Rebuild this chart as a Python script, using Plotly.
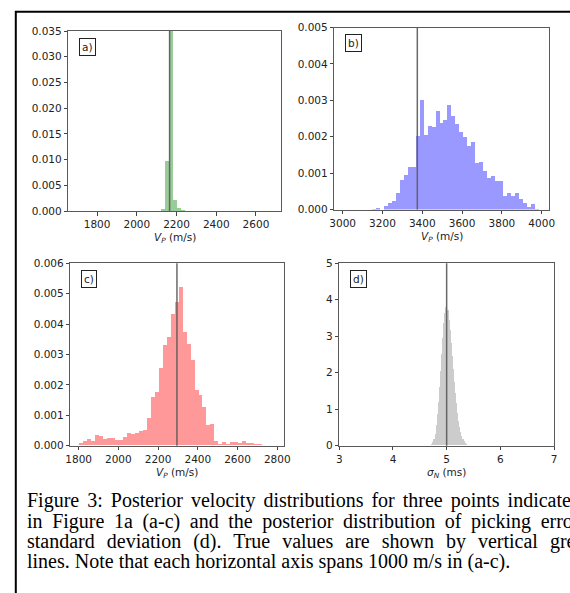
import plotly.graph_objects as go

W, H = 570, 593

# ---------------- data (histogram densities) ----------------
a_start, a_width = 2124, 20
a_density = [0.0003, 0.0097, 0.037, 0.0021, 0.0005, 0.00025]
a_true = 2165

b_start, b_width = 3108, 20
b_density = [0.00001, 0.00001, 0.00002, 0.00005, 0.0, 0.00011, 0.00018, 0.00026,
             0.00048, 0.00083, 0.00096, 0.00118, 0.00117, 0.00204, 0.00303, 0.00206,
             0.0023, 0.00228, 0.00271, 0.0024, 0.00248, 0.00289, 0.00259, 0.00237,
             0.00214, 0.002, 0.00175, 0.00187, 0.00129, 0.00131, 0.00106, 0.00088,
             0.00094, 0.00081, 0.00079, 0.00039, 0.00047, 0.00038, 0.00047, 0.00031,
             0.00018, 0.00008, 0.00017, 0.00003]
b_true = 3375

c_start, c_width = 1805, 20
c_density = [0.00008, 0.00015, 0.0002, 0.00013, 0.00033, 0.00031, 0.00022, 0.00025,
             0.00026, 0.00018, 0.00018, 0.00027, 0.0004, 0.00037, 0.00042, 0.00046,
             0.00051, 0.0009, 0.00159, 0.00175, 0.00254, 0.00331, 0.00358, 0.00433,
             0.00473, 0.0052, 0.00372, 0.00333, 0.00281, 0.00183, 0.00166, 0.00125,
             0.00068, 0.00071, 0.00013, 0.00005, 0.00011, 0.00005, 0.00011, 0.00011,
             0.00008, 0.00013, 0.00009, 0.00009, 0.00005, 0.00005]
c_true = 2295

d_start, d_width = 4.72, 0.02
d_density = [0.03, 0.08, 0.17, 0.32, 0.55, 0.85, 1.2, 1.6, 2.05, 2.5, 2.95, 3.35,
             3.62, 3.8, 3.85, 3.7, 3.45, 3.15, 2.8, 2.45, 2.1, 1.75, 1.45, 1.15,
             0.9, 0.68, 0.5, 0.36, 0.25, 0.17, 0.11, 0.06, 0.03, 0.01]
d_true = 5.0

panel_labels = ["a)", "b)", "c)", "d)"]
x_titles = ["<i>V</i><sub><i>P</i></sub> (m/s)", "<i>V</i><sub><i>P</i></sub> (m/s)",
            "<i>V</i><sub><i>P</i></sub> (m/s)", "<i>σ</i><sub><i>N</i></sub> (ms)"]

caption_lines = [
    "Figure 3: Posterior velocity distributions for three points indicated",
    "in Figure 1a (a-c) and the posterior distribution of picking error",
    "standard deviation (d). True values are shown by vertical grey",
    "lines. Note that each horizontal axis spans 1000 m/s in (a-c).",
]
# extra word spacing (px) mimicking the justified text of the page
caption_word_spacing = [3, 4.6, 7, 0]

# ---------------- layout geometry (pixels) ----------------
panels = [
    dict(start=a_start, width=a_width, dens=a_density, true=a_true,
         color="rgba(0,128,0,0.4)", box=(68.3, 281, 31, 211),
         xr=[1655, 2726], yr=[0, 0.035], xt=(1800, 2600, 200), yt=(0, 0.035, 0.005), yfmt=".3f"),
    dict(start=b_start, width=b_width, dens=b_density, true=b_true,
         color="rgba(0,0,255,0.4)", box=(334.3, 548.7, 27.5, 209.5),
         xr=[2958, 4035], yr=[0, 0.005], xt=(3000, 4000, 200), yt=(0, 0.005, 0.001), yfmt=".3f"),
    dict(start=c_start, width=c_width, dens=c_density, true=c_true,
         color="rgba(255,0,0,0.4)", box=(70.3, 284, 263.3, 445.7),
         xr=[1758, 2834], yr=[0, 0.006], xt=(1800, 2800, 200), yt=(0, 0.006, 0.001), yfmt=".3f"),
    dict(start=d_start, width=d_width, dens=d_density, true=d_true,
         color="rgba(128,128,128,0.4)", box=(339.3, 554, 263.3, 445.7),
         xr=[3, 7], yr=[0, 5], xt=(3, 7, 1), yt=(0, 5, 1), yfmt="d"),
]


def frange(a, b, s):
    out = []
    n = int(round((b - a) / s))
    for i in range(n + 1):
        out.append(round(a + i * s, 6))
    return out


fig = go.Figure()
layout = dict(width=W, height=H, margin=dict(l=0, r=0, t=0, b=0),
              paper_bgcolor="white", plot_bgcolor="white", showlegend=False,
              bargap=0, barmode="overlay",
              font=dict(family="DejaVu Sans", size=10.5, color="#222"))
shapes = []
annotations = []

for i, p in enumerate(panels):
    n = "" if i == 0 else str(i + 1)
    xa, ya = "x" + n, "y" + n
    centers = [p["start"] + p["width"] * (k + 0.5) for k in range(len(p["dens"]))]
    fig.add_trace(go.Bar(x=centers, y=p["dens"], width=p["width"],
                         marker=dict(color=p["color"], line=dict(width=0)),
                         xaxis=xa, yaxis=ya, hoverinfo="skip"))
    x0, x1, ytop, ybot = p["box"]
    common = dict(showline=True, mirror=True, linecolor="#5a5a5a", linewidth=1,
                  ticks="outside", ticklen=3.5, tickcolor="#444", tickwidth=1,
                  showgrid=False, zeroline=False, automargin=False,
                  tickfont=dict(family="DejaVu Sans", size=10.5, color="#222"))
    layout["xaxis" + n] = dict(domain=[x0 / W, x1 / W], range=p["xr"], anchor=ya,
                               tickmode="array", tickvals=frange(*p["xt"]), **common)
    yt = frange(*p["yt"])
    if p["yfmt"] == "d":
        ytext = [str(int(v)) for v in yt]
    else:
        ytext = [f"{v:.3f}" for v in yt]
    layout["yaxis" + n] = dict(domain=[1 - ybot / H, 1 - ytop / H], range=p["yr"], anchor=xa,
                               tickmode="array", tickvals=yt, ticktext=ytext, **common)
    # true value line
    shapes.append(dict(type="line", xref=xa, yref=ya + " domain", x0=p["true"], x1=p["true"],
                       y0=0, y1=1, line=dict(color="rgba(90,90,90,0.9)", width=1.5), layer="above"))
    # panel label box
    annotations.append(dict(text=panel_labels[i], xref="paper", yref="paper",
                            x=(x0 + 10.5) / W, y=1 - (ytop + 6.5) / H,
                            xanchor="left", yanchor="top", showarrow=False,
                            font=dict(family="DejaVu Sans", size=10.5, color="#222"),
                            bordercolor="#222", borderwidth=1, borderpad=2, bgcolor="white"))
    # x title
    annotations.append(dict(text=x_titles[i], xref="paper", yref="paper",
                            x=(x0 + x1) / 2 / W, y=1 - (ybot + 27) / H,
                            xanchor="center", yanchor="middle", showarrow=False,
                            font=dict(family="DejaVu Sans", size=10.5, color="#222")))

# caption
for j, line in enumerate(caption_lines):
    txt = line
    if caption_word_spacing[j]:
        txt = f'<span style="word-spacing:{caption_word_spacing[j]}px">{line}</span>'
    annotations.append(dict(text=txt, xref="paper", yref="paper",
                            x=24.5 / W, y=1 - (501 + 20 * j) / H,
                            xanchor="left", yanchor="middle", showarrow=False,
                            font=dict(family="Liberation Serif", size=20, color="black")))

# page border lines
shapes.append(dict(type="line", xref="paper", yref="paper", x0=15 / W, x1=1.0,
                   y0=1 - 11.8 / H, y1=1 - 11.8 / H, line=dict(color="black", width=2)))
shapes.append(dict(type="line", xref="paper", yref="paper", x0=15.8 / W, x1=15.8 / W,
                   y0=0, y1=1 - 11 / H, line=dict(color="black", width=2)))

layout["shapes"] = shapes
layout["annotations"] = annotations
fig.update_layout(**layout)
fig.write_html("out.html")
